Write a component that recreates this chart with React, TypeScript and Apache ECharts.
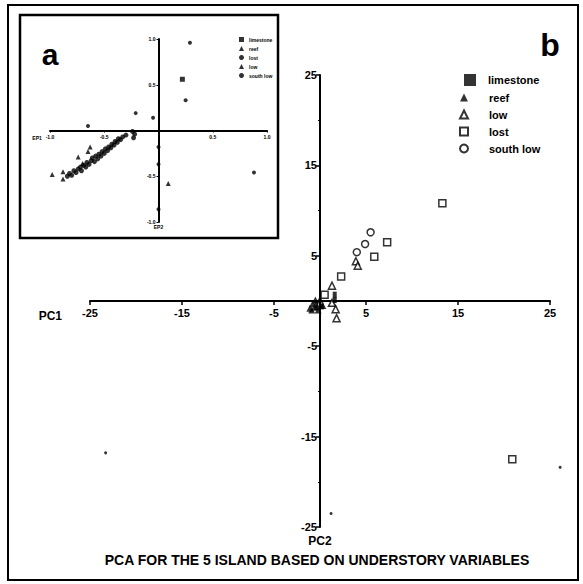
import React, { useEffect, useRef } from "react";
import * as echarts from "echarts";

// ---- main plot (b) data: [PC1, PC2]
const mainLimestone = [[1.6, 0.7], [1.6, 0.1], [-0.4, -0.4], [0.2, -0.6]];
const mainReef = [[-1.1, -0.8], [-0.8, -0.3], [-0.5, 0.1], [-0.3, -0.6], [0.0, 0.2], [-0.9, -1.0], [-0.2, -1.0], [0.3, -0.5], [-0.6, -0.7]];
const mainLow = [[3.9, 4.4], [4.1, 3.9], [1.3, 1.7], [1.3, -0.2], [1.7, -0.9], [1.8, -1.9]];
const mainLost = [[7.3, 6.5], [5.9, 4.9], [2.3, 2.7], [0.5, 0.7], [13.3, 10.8], [20.9, -17.5]];
const mainSouthLow = [[5.5, 7.6], [4.9, 6.3], [4.0, 5.4]];
const strayDots = [[-23.3, -16.8], [1.2, -23.5], [26.1, -18.4]];

const mainTicks = [-25, -15, -5, 5, 15, 25];

// ---- inset plot (a) data: [EP1, EP2]
const insetLimestone = [[0.22, 0.56]];
const insetReef = [[-0.98, -0.48], [-0.88, -0.45], [-0.88, -0.53], [-0.74, -0.29], [0.09, -0.58]];
const insetLost = [
  [-0.84, -0.50], [-0.82, -0.47], [-0.80, -0.49], [-0.78, -0.44], [-0.76, -0.46], [-0.74, -0.42],
  [-0.72, -0.40], [-0.71, -0.44], [-0.69, -0.38], [-0.67, -0.40], [-0.66, -0.35], [-0.64, -0.37],
  [-0.62, -0.33], [-0.61, -0.30], [-0.59, -0.34], [-0.58, -0.28], [-0.56, -0.31], [-0.55, -0.26],
  [-0.53, -0.28], [-0.52, -0.23], [-0.50, -0.25], [-0.49, -0.20], [-0.47, -0.22], [-0.46, -0.18],
  [-0.44, -0.19], [-0.43, -0.15], [-0.41, -0.16], [-0.40, -0.12], [-0.38, -0.13], [-0.37, -0.09],
  [-0.35, -0.10], [-0.33, -0.07], [-0.30, -0.05], [-0.24, -0.01], [-0.22, -0.04], [-0.23, -0.08],
];
const insetLow = [[-0.63, -0.18], [-0.65, -0.23], [-0.70, -0.36]];
const insetSouthLow = [[0.29, 0.96], [0.25, 0.33], [0.88, -0.46], [-0.21, 0.19], [-0.65, 0.05], [-0.05, 0.14], [0.0, -0.18], [0.0, -0.37], [0.0, -0.86]];

const mainNames = ["limestone", "reef", "low", "lost", "south low"];
const insetNames = ["a limestone", "a reef", "a lost", "a low", "a south low"];

const FONT = "Liberation Sans, Arial, sans-serif";

export default function App() {
  const ref = useRef<HTMLDivElement>(null);
  useEffect(() => {
    if (!ref.current) return;
    const chart = echarts.init(ref.current, undefined, { renderer: "svg" });
    const open = { color: "#fff", borderColor: "#000", borderWidth: 1.5 };
    const filled = { color: "#000" };
    const insetStyle = { color: "#000" };
    const axisLbl = (size: number) => ({ fontSize: size, fontWeight: "bold" as const, color: "#000", fontFamily: FONT });
    chart.setOption({
      animation: false,
      backgroundColor: "#fff",
      title: {
        text: "PCA FOR THE 5 ISLAND BASED ON UNDERSTORY VARIABLES",
        left: 312,
        top: 548,
        textAlign: "center",
        textStyle: { fontSize: 14, fontWeight: "bold", color: "#000", fontFamily: FONT },
      },
      legend: [
        {
          data: ["limestone"],
          orient: "vertical",
          left: 459,
          top: 69,
          itemWidth: 12,
          itemHeight: 12,
          textStyle: { ...axisLbl(11), padding: [0, 0, 0, 7] },
          selectedMode: false,
        },
        {
          data: ["reef", "low", "lost", "south low"],
          orient: "vertical",
          left: 454,
          top: 87,
          itemWidth: 8,
          itemHeight: 8,
          itemGap: 6,
          textStyle: { ...axisLbl(11), padding: [0, 0, 0, 16] },
          selectedMode: false,
        },
        {
          data: insetNames,
          orient: "vertical",
          left: 234,
          top: 32,
          itemWidth: 5,
          itemHeight: 5,
          itemGap: 4,
          formatter: (n: string) => n.replace(/^a /, ""),
          textStyle: { ...axisLbl(5), padding: [0, 0, 0, 0] },
          selectedMode: false,
        },
      ],
      grid: [
        { left: 90, top: 75, width: 460, height: 452 },
        { left: 50, top: 39, width: 217, height: 183 },
      ],
      xAxis: [
        {
          type: "value",
          gridIndex: 0,
          min: -25,
          max: 25,
          interval: 10,
          position: "bottom",
          offset: -226,
          name: "PC1",
          nameLocation: "start",
          nameGap: 28,
          nameTextStyle: { ...axisLbl(12), verticalAlign: "top", padding: [9, 0, 0, 0] },
          axisLine: { onZero: false, lineStyle: { color: "#000", width: 2 } },
          axisTick: { show: true, length: 4, lineStyle: { color: "#000", width: 1.5 } },
          axisLabel: { ...axisLbl(11), margin: 6, formatter: (v: number) => (mainTicks.includes(v) ? String(v) : "") },
          splitLine: { show: false },
        },
        {
          type: "value",
          gridIndex: 1,
          min: -1,
          max: 1,
          interval: 0.5,
          position: "bottom",
          offset: -91.5,
          name: "EP1",
          nameLocation: "start",
          nameGap: 8,
          nameTextStyle: { ...axisLbl(5), verticalAlign: "top", padding: [5, 0, 0, 0] },
          axisLine: { onZero: false, lineStyle: { color: "#000", width: 2 } },
          axisTick: { show: true, length: 2, lineStyle: { color: "#000", width: 1 } },
          axisLabel: { ...axisLbl(5), margin: 4, formatter: (v: number) => (v === 0 ? "" : v.toFixed(1)) },
          splitLine: { show: false },
        },
      ],
      yAxis: [
        {
          type: "value",
          gridIndex: 0,
          min: -25,
          max: 25,
          interval: 10,
          position: "left",
          offset: -230,
          name: "PC2",
          nameLocation: "start",
          nameGap: 8,
          nameTextStyle: { ...axisLbl(12), verticalAlign: "top" },
          axisLine: { onZero: false, lineStyle: { color: "#000", width: 2 } },
          axisTick: { show: true, length: 4, lineStyle: { color: "#000", width: 1.5 } },
          minorTick: { show: true, splitNumber: 2, length: 2, lineStyle: { color: "#000", width: 1 } },
          axisLabel: { ...axisLbl(11), margin: 3 },
          splitLine: { show: false },
        },
        {
          type: "value",
          gridIndex: 1,
          min: -1,
          max: 1,
          interval: 0.5,
          position: "left",
          offset: -108.5,
          name: "EP2",
          nameLocation: "start",
          nameGap: 2,
          nameTextStyle: { ...axisLbl(5), verticalAlign: "top" },
          axisLine: { onZero: false, lineStyle: { color: "#000", width: 2 } },
          axisTick: { show: true, length: 2, lineStyle: { color: "#000", width: 1 } },
          axisLabel: { ...axisLbl(5), margin: 3, formatter: (v: number) => (v === 0 ? "" : v.toFixed(1)) },
          splitLine: { show: false },
        },
      ],
      series: [
        { name: mainNames[3], type: "scatter", xAxisIndex: 0, yAxisIndex: 0, data: mainLost, symbol: "rect", symbolSize: 7, itemStyle: open },
        { name: mainNames[4], type: "scatter", xAxisIndex: 0, yAxisIndex: 0, data: mainSouthLow, symbol: "circle", symbolSize: 7, itemStyle: open },
        { name: mainNames[2], type: "scatter", xAxisIndex: 0, yAxisIndex: 0, data: mainLow, symbol: "triangle", symbolSize: 7, itemStyle: open },
        { name: mainNames[0], type: "scatter", xAxisIndex: 0, yAxisIndex: 0, data: mainLimestone, symbol: "rect", symbolSize: [4, 6], itemStyle: filled },
        { name: mainNames[1], type: "scatter", xAxisIndex: 0, yAxisIndex: 0, data: mainReef, symbol: "triangle", symbolSize: 7, itemStyle: filled },
        { name: "dots", type: "scatter", xAxisIndex: 0, yAxisIndex: 0, data: strayDots, symbol: "circle", symbolSize: 3, clip: false, itemStyle: filled },
        { name: insetNames[0], type: "scatter", xAxisIndex: 1, yAxisIndex: 1, data: insetLimestone, symbol: "rect", symbolSize: 5, itemStyle: insetStyle },
        { name: insetNames[1], type: "scatter", xAxisIndex: 1, yAxisIndex: 1, data: insetReef, symbol: "triangle", symbolSize: 5, itemStyle: insetStyle },
        { name: insetNames[2], type: "scatter", xAxisIndex: 1, yAxisIndex: 1, data: insetLost, symbol: "circle", symbolSize: 5, itemStyle: insetStyle },
        { name: insetNames[3], type: "scatter", xAxisIndex: 1, yAxisIndex: 1, data: insetLow, symbol: "triangle", symbolSize: 5, itemStyle: insetStyle },
        { name: insetNames[4], type: "scatter", xAxisIndex: 1, yAxisIndex: 1, data: insetSouthLow, symbol: "circle", symbolSize: 4, itemStyle: insetStyle },
      ],
      graphic: [
        { type: "rect", shape: { x: 8, y: 5, width: 570, height: 575 }, style: { fill: "none", stroke: "#000", lineWidth: 2 }, silent: true },
        { type: "rect", shape: { x: 20, y: 15, width: 258, height: 223 }, style: { fill: "none", stroke: "#000", lineWidth: 2.5 }, silent: true },
        { type: "text", x: 50, y: 54, style: { text: "a", font: `bold 30px ${FONT}`, fill: "#000", textAlign: "center", textVerticalAlign: "middle" } },
        { type: "text", x: 550, y: 45, style: { text: "b", font: `bold 32px ${FONT}`, fill: "#000", textAlign: "center", textVerticalAlign: "middle" } },
      ],
    });
    return () => chart.dispose();
  }, []);
  return <div ref={ref} style={{ position: "absolute", left: 0, top: 0, width: 583, height: 584 }} />;
}
